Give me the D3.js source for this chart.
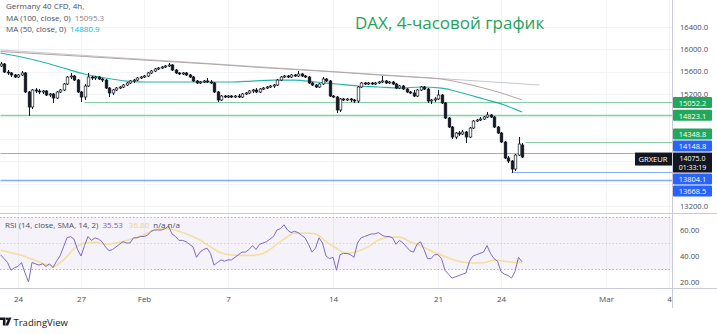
<!DOCTYPE html>
<html>
<head>
<meta charset="utf-8">
<script src="https://cdn.jsdelivr.net/npm/d3@7"></script>
<style>
  body { margin: 0; background: #fff; }
  svg { display: block; font-family: "Open Sans", sans-serif; }
</style>
</head>
<body>
<svg id="chart" width="717" height="334"></svg>
<script>
// Germany 40 CFD, 4h candles (Jan 21 - Feb 25)
const opens = [
  15703, 15738, 15595, 15578, 15542, 15506, 15542, 15578, 15238, 14970,
  15274, 15256, 15238, 15256, 15184, 15202, 15130, 15238, 15274, 15381,
  15506, 15524, 15452, 15238, 15148, 15345, 15506, 15488, 15506, 15470,
  15452, 15309, 15220, 15274, 15309, 15327, 15363, 15399, 15435, 15452,
  15488, 15506, 15524, 15578, 15613, 15649, 15667, 15685, 15703, 15721,
  15631, 15578, 15560, 15578, 15542, 15506, 15435, 15399, 15417, 15435,
  15417, 15399, 15238, 15095, 15166, 15148, 15166, 15148, 15166, 15148,
  15202, 15220, 15256, 15274, 15238, 15291, 15309, 15327, 15345, 15363,
  15452, 15506, 15524, 15506, 15542, 15524, 15560, 15524, 15506, 15399,
  15363, 15327, 15381, 15470, 15435, 15166, 15148, 14916, 15113, 15095,
  15113, 15095, 15077, 15327, 15399, 15381, 15399, 15381, 15399, 15417,
  15435, 15399, 15417, 15381, 15309, 15345, 15291, 15238, 15220, 15166,
  15274, 15327, 15291, 15077, 15095, 15113, 15184, 15041, 14773, 14612,
  14433, 14505, 14487, 14523, 14433, 14594, 14719, 14737, 14755, 14791,
  14827, 14791, 14612, 14505, 14344, 14058, 14004, 13861, 14111, 14290
];
const highs = [
  15774, 15756, 15631, 15595, 15560, 15560, 15613, 15595, 15256, 15291,
  15309, 15291, 15274, 15274, 15220, 15220, 15256, 15291, 15399, 15524,
  15578, 15542, 15470, 15256, 15381, 15578, 15524, 15524, 15524, 15488,
  15470, 15327, 15291, 15327, 15345, 15381, 15417, 15452, 15470, 15506,
  15524, 15542, 15595, 15631, 15667, 15685, 15703, 15721, 15756, 15738,
  15649, 15595, 15595, 15595, 15560, 15524, 15452, 15435, 15452, 15488,
  15452, 15417, 15256, 15184, 15184, 15184, 15184, 15184, 15202, 15220,
  15238, 15274, 15291, 15309, 15309, 15327, 15345, 15363, 15381, 15470,
  15524, 15542, 15542, 15560, 15560, 15613, 15578, 15542, 15524, 15417,
  15381, 15399, 15506, 15488, 15452, 15184, 15166, 15130, 15130, 15130,
  15130, 15113, 15345, 15417, 15417, 15417, 15417, 15417, 15435, 15524,
  15452, 15435, 15435, 15399, 15363, 15363, 15309, 15256, 15274, 15291,
  15345, 15345, 15309, 15113, 15148, 15274, 15202, 15059, 14791, 14630,
  14523, 14541, 14558, 14541, 14612, 14737, 14755, 14791, 14809, 14880,
  14844, 14809, 14630, 14523, 14362, 14094, 14022, 14129, 14433, 14326
];
const lows = [
  15685, 15578, 15542, 15506, 15488, 15488, 15524, 15220, 14809, 14934,
  15220, 15202, 15202, 15166, 15148, 15041, 15113, 15220, 15256, 15363,
  15470, 15435, 15220, 15059, 15095, 15327, 15452, 15452, 15452, 15417,
  15291, 15148, 15184, 15256, 15291, 15309, 15345, 15381, 15399, 15435,
  15470, 15488, 15506, 15560, 15595, 15631, 15649, 15667, 15685, 15613,
  15560, 15542, 15542, 15524, 15488, 15417, 15381, 15381, 15399, 15399,
  15381, 15220, 15059, 15077, 15130, 15130, 15130, 15130, 15130, 15130,
  15184, 15202, 15220, 15220, 15220, 15274, 15291, 15309, 15309, 15345,
  15435, 15488, 15488, 15488, 15506, 15506, 15506, 15488, 15381, 15345,
  15309, 15309, 15363, 15417, 15148, 15130, 14862, 14880, 15077, 15077,
  15059, 15041, 15041, 15309, 15363, 15363, 15363, 15363, 15381, 15399,
  15381, 15381, 15363, 15291, 15291, 15274, 15220, 15202, 15148, 15148,
  15256, 15274, 15041, 15023, 15059, 15095, 15023, 14755, 14594, 14397,
  14397, 14451, 14469, 14326, 14415, 14576, 14701, 14719, 14737, 14773,
  14773, 14594, 14487, 14326, 14040, 13968, 13790, 13825, 14094, 14058
];
const closes = [
  15738, 15595, 15578, 15542, 15506, 15542, 15578, 15238, 14970, 15274,
  15256, 15238, 15256, 15184, 15202, 15130, 15238, 15274, 15381, 15506,
  15524, 15452, 15238, 15148, 15345, 15506, 15488, 15506, 15470, 15452,
  15309, 15220, 15274, 15309, 15327, 15363, 15399, 15435, 15452, 15488,
  15506, 15524, 15578, 15613, 15649, 15667, 15685, 15703, 15721, 15631,
  15578, 15560, 15578, 15542, 15506, 15435, 15399, 15417, 15435, 15417,
  15399, 15238, 15095, 15166, 15148, 15166, 15148, 15166, 15148, 15202,
  15220, 15256, 15274, 15238, 15291, 15309, 15327, 15345, 15363, 15452,
  15506, 15524, 15506, 15542, 15524, 15560, 15524, 15506, 15399, 15363,
  15327, 15381, 15470, 15435, 15166, 15148, 14916, 15113, 15095, 15113,
  15095, 15077, 15327, 15399, 15381, 15399, 15381, 15399, 15417, 15435,
  15399, 15417, 15381, 15309, 15345, 15291, 15238, 15220, 15166, 15274,
  15327, 15291, 15077, 15095, 15113, 15184, 15041, 14773, 14612, 14433,
  14505, 14487, 14523, 14433, 14594, 14719, 14737, 14755, 14791, 14827,
  14791, 14612, 14505, 14344, 14058, 14004, 13861, 14111, 14308, 14075
];

// moving averages, one value every 6 bars (last one on the last bar)
const ma100 = [15962, 15940, 15917, 15895, 15873, 15850, 15828, 15805, 15783, 15760,
  15738, 15712, 15685, 15662, 15640, 15618, 15595, 15568, 15542, 15520,
  15497, 15470, 15399, 15309, 15202, 15095.3];
const ma50 = [15935, 15864, 15774, 15667, 15560, 15488, 15434, 15417, 15417, 15417,
  15417, 15417, 15434, 15452, 15452, 15417, 15381, 15345, 15327, 15309,
  15327, 15309, 15220, 15113, 15005, 14880.9];

// drawn trend line (bar index, price)
const trendIdx = [0, 154];
const trendPrice = [15989, 15363];

// horizontal levels
const levelPrices = [15052.2, 14823.1, 14348.8, 14148.8, 13804.1, 13668.5];
const levelFrom = [24, 0, 150, 0, 146, 0];

// RSI(14) per bar
const rsi = [
  41, 38, 35, 29, 31, 32, 35, 27, 20, 35,
  34, 33, 34, 32, 34, 31, 36, 40, 47, 54,
  55, 53, 45, 40, 48, 55, 52, 54, 53, 51,
  47, 44, 45, 47, 49, 51, 50, 50, 54, 54,
  55, 55, 56, 59, 60, 60, 60, 61, 63, 57,
  55, 52, 52, 51, 49, 47, 39, 43, 45, 46,
  42, 33, 35, 37, 36, 37, 37, 39, 41, 43,
  43, 45, 48, 45, 49, 50, 51, 53, 55, 60,
  61, 64, 60, 58, 59, 58, 56, 54, 49, 43,
  46, 54, 50, 40, 38, 39, 29, 41, 42, 42,
  41, 39, 50, 54, 55, 56, 57, 57, 58, 56,
  55, 55, 54, 49, 52, 50, 47, 44, 43, 49,
  51, 45, 38, 38, 41, 41, 38, 29, 26, 23,
  24, 25, 26, 27, 36, 40, 41, 42, 43, 48,
  42, 38, 36, 28, 26, 25, 23, 28, 39, 35.53
];
// RSI SMA, one value every 3 bars (last one on the last bar)
const rsiSma = [
  44.6, 42.5, 40.5, 37.5, 34.5, 32, 37, 45.5, 50, 50.5,
  49, 50, 52, 54.5, 57.5, 61, 61, 59, 56, 52.3,
  47, 42.5, 40.8, 40.5, 40.5, 42, 47, 53, 57.5, 57.7,
  57, 51, 46, 42, 43.5, 47, 52.3, 54.5, 54.5, 51,
  48, 44, 40.5, 37.5, 35.4, 34.6, 34.8, 36.8, 36, 35, 35
];

const priceTicks = [16400, 16000, 15600, 15200, 13200];
const gridPrices = [16400, 16000, 15600, 15200, 14800, 14400, 14000, 13600, 13200];
const rsiTicks = [60, 40, 20];
const rsiBands = [70, 50, 30];
const timeTickIdx = [5, 23, 41, 65, 95, 125, 143, 173, 191];
const timeTickLabels = ["24", "27", "Feb", "7", "14", "21", "24", "Mar", "4"];

// styles
const levelColors = ["#22a85a", "#22a85a", "#22a85a", "#2962ff", "#2962ff", "#2962ff"];
const levelWidths = [1, 1.6, 1, 1, 1, 1.6];
const textGray = "#4a4e5a";

const svg = d3.select("#chart");
const paneRight = 672, mainBottom = 213, rsiBottom = 288, axisBottom = 308;

const x = d3.scaleLinear().domain([0, 191]).range([0.5, 669]);
const y = d3.scaleLinear().domain([13200, 16400]).range([206, 27]);
const yr = d3.scaleLinear().domain([20, 60]).range([282, 230]);

const defs = svg.append("defs");
defs.append("clipPath").attr("id", "clipMain")
  .append("rect").attr("x", 0).attr("y", 0).attr("width", paneRight).attr("height", mainBottom);
defs.append("clipPath").attr("id", "clipRsi")
  .append("rect").attr("x", 0).attr("y", mainBottom).attr("width", paneRight).attr("height", rsiBottom - mainBottom);

// grid
svg.append("g").selectAll("line").data(gridPrices).join("line")
  .attr("x1", 0).attr("x2", paneRight)
  .attr("y1", d => Math.round(y(d)) + 0.5).attr("y2", d => Math.round(y(d)) + 0.5)
  .attr("stroke", "#f2f3f6");
svg.append("g").selectAll("line").data(timeTickIdx).join("line")
  .attr("x1", d => Math.round(x(d)) + 0.5).attr("x2", d => Math.round(x(d)) + 0.5)
  .attr("y1", 0).attr("y2", rsiBottom)
  .attr("stroke", "#f2f3f6");

// ---- main pane
const main = svg.append("g").attr("clip-path", "url(#clipMain)");

main.append("path")
  .datum(trendIdx.map((d, i) => [d, trendPrice[i]]))
  .attr("d", d3.line().x(d => x(d[0])).y(d => y(d[1])))
  .attr("fill", "none").attr("stroke", "#c4c7ce").attr("stroke-width", 1);

const maIdx = (k, n) => k === n - 1 ? closes.length - 1 : k * 6;
const maLine = d3.line().x(d => x(d.i)).y(d => y(d.v)).curve(d3.curveMonotoneX);
main.append("path")
  .datum(ma100.map((v, k) => ({ i: maIdx(k, ma100.length), v: v })))
  .attr("d", maLine).attr("fill", "none").attr("stroke", "#b3a3a3").attr("stroke-width", 1);
main.append("path")
  .datum(ma50.map((v, k) => ({ i: maIdx(k, ma50.length), v: v })))
  .attr("d", maLine).attr("fill", "none").attr("stroke", "#26b5ab").attr("stroke-width", 1.2);

levelPrices.forEach(function(p, k) {
  const yy = Math.round(y(p)) + 0.5;
  main.append("line")
    .attr("x1", x(levelFrom[k])).attr("x2", paneRight)
    .attr("y1", yy).attr("y2", yy)
    .attr("stroke", levelColors[k]).attr("stroke-opacity", 0.55)
    .attr("stroke-width", levelWidths[k]);
});

// candles
const candles = main.append("g");
closes.forEach(function(c, i) {
  const o = opens[i];
  const cx = Math.round(x(i)) + 0.5;
  const up = c >= o;
  candles.append("line")
    .attr("x1", cx).attr("x2", cx)
    .attr("y1", y(highs[i])).attr("y2", y(lows[i]))
    .attr("stroke", "#131722").attr("stroke-width", 1);
  const top = y(Math.max(o, c)), bot = y(Math.min(o, c));
  candles.append("rect")
    .attr("x", cx - 1.3).attr("width", 2.6)
    .attr("y", top).attr("height", Math.max(0.8, bot - top))
    .attr("fill", up ? "#fff" : "#131722")
    .attr("stroke", "#131722").attr("stroke-width", 0.7);
});

// legend
const legend = svg.append("g").attr("font-size", 8).attr("fill", textGray);
legend.append("text").attr("x", 6).attr("y", 9).text("Germany 40 CFD, 4h,");
const l1 = legend.append("text").attr("x", 6).attr("y", 20.5);
l1.append("tspan").text("MA (100, close, 0)");
l1.append("tspan").attr("dx", 4).attr("fill", "#8a7f7f").text(d3.format(".1f")(ma100[ma100.length - 1]));
const l2 = legend.append("text").attr("x", 6).attr("y", 32);
l2.append("tspan").text("MA (50, close, 0)");
l2.append("tspan").attr("dx", 4).attr("fill", "#00bcd4").text(d3.format(".1f")(ma50[ma50.length - 1]));

// title
svg.append("text")
  .attr("x", 355).attr("y", 28.5)
  .attr("font-size", 17).attr("fill", "#1fa35c")
  .text("DAX, 4-часовой график");

// ---- RSI pane
const rp = svg.append("g").attr("clip-path", "url(#clipRsi)");
rp.append("rect")
  .attr("x", 0).attr("width", paneRight)
  .attr("y", yr(70)).attr("height", yr(30) - yr(70))
  .attr("fill", "#7e57c2").attr("fill-opacity", 0.08);
rp.selectAll("line.band").data(rsiBands).join("line")
  .attr("class", "band")
  .attr("x1", 0).attr("x2", paneRight)
  .attr("y1", d => Math.round(yr(d)) + 0.5).attr("y2", d => Math.round(yr(d)) + 0.5)
  .attr("stroke", "#9d8fc0").attr("stroke-opacity", d => d === 50 ? 0.35 : 0.7)
  .attr("stroke-dasharray", "1.5,2");
rp.append("path")
  .datum(rsiSma.map((v, k) => ({ i: Math.min(k * 3, closes.length - 1), v: v })))
  .attr("d", d3.line().x(d => x(d.i)).y(d => yr(d.v)).curve(d3.curveMonotoneX))
  .attr("fill", "none").attr("stroke", "#f3df9e").attr("stroke-width", 1.6);
rp.append("path")
  .datum(rsi)
  .attr("d", d3.line().x((d, i) => x(i)).y(d => yr(d)))
  .attr("fill", "none").attr("stroke", "#7e6bc4").attr("stroke-width", 1);

const rl = svg.append("text").attr("x", 5).attr("y", 228).attr("font-size", 8).attr("fill", textGray);
rl.append("tspan").text("RSI (14, close, SMA, 14, 2)");
rl.append("tspan").attr("dx", 4).attr("fill", "#7e57c2").text(d3.format(".2f")(rsi[rsi.length - 1]));
rl.append("tspan").attr("dx", 6).attr("fill", "#f0d27a").text("36.80");
rl.append("tspan").attr("dx", 4).text("n/a  n/a");

// pane separators and axis border
svg.append("line").attr("x1", 0).attr("x2", 717).attr("y1", mainBottom + 0.5).attr("y2", mainBottom + 0.5)
  .attr("stroke", "#c9ccd4");
svg.append("line").attr("x1", 0).attr("x2", 717).attr("y1", rsiBottom + 0.5).attr("y2", rsiBottom + 0.5)
  .attr("stroke", "#c9ccd4");
svg.append("line").attr("x1", paneRight + 0.5).attr("x2", paneRight + 0.5).attr("y1", 0).attr("y2", axisBottom)
  .attr("stroke", "#c9ccd4");

// price axis
const pa = svg.append("g")
  .attr("transform", `translate(${paneRight},0)`)
  .call(d3.axisRight(y).tickValues(priceTicks).tickFormat(d3.format(".1f")).tickSize(0).tickPadding(8));
pa.select(".domain").remove();
pa.selectAll("text").attr("font-size", 7.6).attr("fill", textGray).attr("font-family", "Open Sans")
  .attr("dy", "0.28em");

const ra = svg.append("g")
  .attr("transform", `translate(${paneRight},0)`)
  .call(d3.axisRight(yr).tickValues(rsiTicks).tickFormat(d3.format(".2f")).tickSize(0).tickPadding(8));
ra.select(".domain").remove();
ra.selectAll("text").attr("font-size", 7.6).attr("fill", textGray).attr("font-family", "Open Sans");

// level labels on the price axis, pushed apart around the last price box
const last = closes[closes.length - 1];
const yLast = y(last);
const boxH = 11, boxX = paneRight + 1, boxW = 39;
const priceTop = yLast - 4.5, priceH = 20;
const placed = levelPrices.map((p, k) => ({ p: p, k: k, c: y(p) }));
let limit = priceTop - 1;
placed.filter(d => d.p > last).sort((a, b) => a.p - b.p).forEach(function(d) {
  d.c = Math.min(d.c, limit - boxH / 2);
  limit = d.c - boxH / 2 - 1;
});
limit = priceTop + priceH + 1;
placed.filter(d => d.p < last).sort((a, b) => b.p - a.p).forEach(function(d) {
  d.c = Math.max(d.c, limit + boxH / 2);
  limit = d.c + boxH / 2 + 1;
});
const labels = svg.append("g");
placed.forEach(function(d) {
  labels.append("rect")
    .attr("x", boxX).attr("y", d.c - boxH / 2).attr("width", boxW).attr("height", boxH)
    .attr("rx", 1).attr("fill", levelColors[d.k]);
  labels.append("text")
    .attr("x", boxX + boxW / 2).attr("y", d.c + 3.3)
    .attr("text-anchor", "middle").attr("font-size", 7.4).attr("fill", "#fff")
    .text(d3.format(".1f")(d.p));
});
labels.append("rect")
  .attr("x", 635).attr("y", priceTop).attr("width", paneRight - 635).attr("height", 13)
  .attr("fill", "#131722");
labels.append("text")
  .attr("x", 653).attr("y", priceTop + 9).attr("text-anchor", "middle")
  .attr("font-size", 7.6).attr("fill", "#fff").text("GRXEUR");
labels.append("rect")
  .attr("x", boxX).attr("y", priceTop).attr("width", boxW).attr("height", priceH)
  .attr("fill", "#131722");
labels.append("text")
  .attr("x", boxX + boxW / 2).attr("y", priceTop + 8).attr("text-anchor", "middle")
  .attr("font-size", 7).attr("fill", "#fff").text(d3.format(".1f")(last));
labels.append("text")
  .attr("x", boxX + boxW / 2).attr("y", priceTop + 17.8).attr("text-anchor", "middle")
  .attr("font-size", 7).attr("fill", "#fff").text("01:33:19");

// time axis
const ta = svg.append("g")
  .attr("transform", `translate(0,${rsiBottom})`)
  .call(d3.axisBottom(x).tickValues(timeTickIdx).tickFormat((d, i) => timeTickLabels[i]).tickSize(0).tickPadding(8));
ta.select(".domain").remove();
ta.selectAll("text").attr("font-size", 8).attr("fill", textGray).attr("font-family", "Open Sans");

// TradingView mark
const logo = svg.append("g").attr("fill", "#131722");
logo.append("path").attr("d", "M0,317.5 h5.5 v8 h-2.6 v-5.4 h-2.9 z");
logo.append("circle").attr("cx", 7).attr("cy", 318.8).attr("r", 1.2);
logo.append("path").attr("d", "M8.6,317.5 h2.8 l-3.2,8 h-2.8 z");
svg.append("text").attr("x", 13.5).attr("y", 325.5)
  .attr("font-size", 9.5).attr("fill", "#131722").text("TradingView");
</script>
</body>
</html>
